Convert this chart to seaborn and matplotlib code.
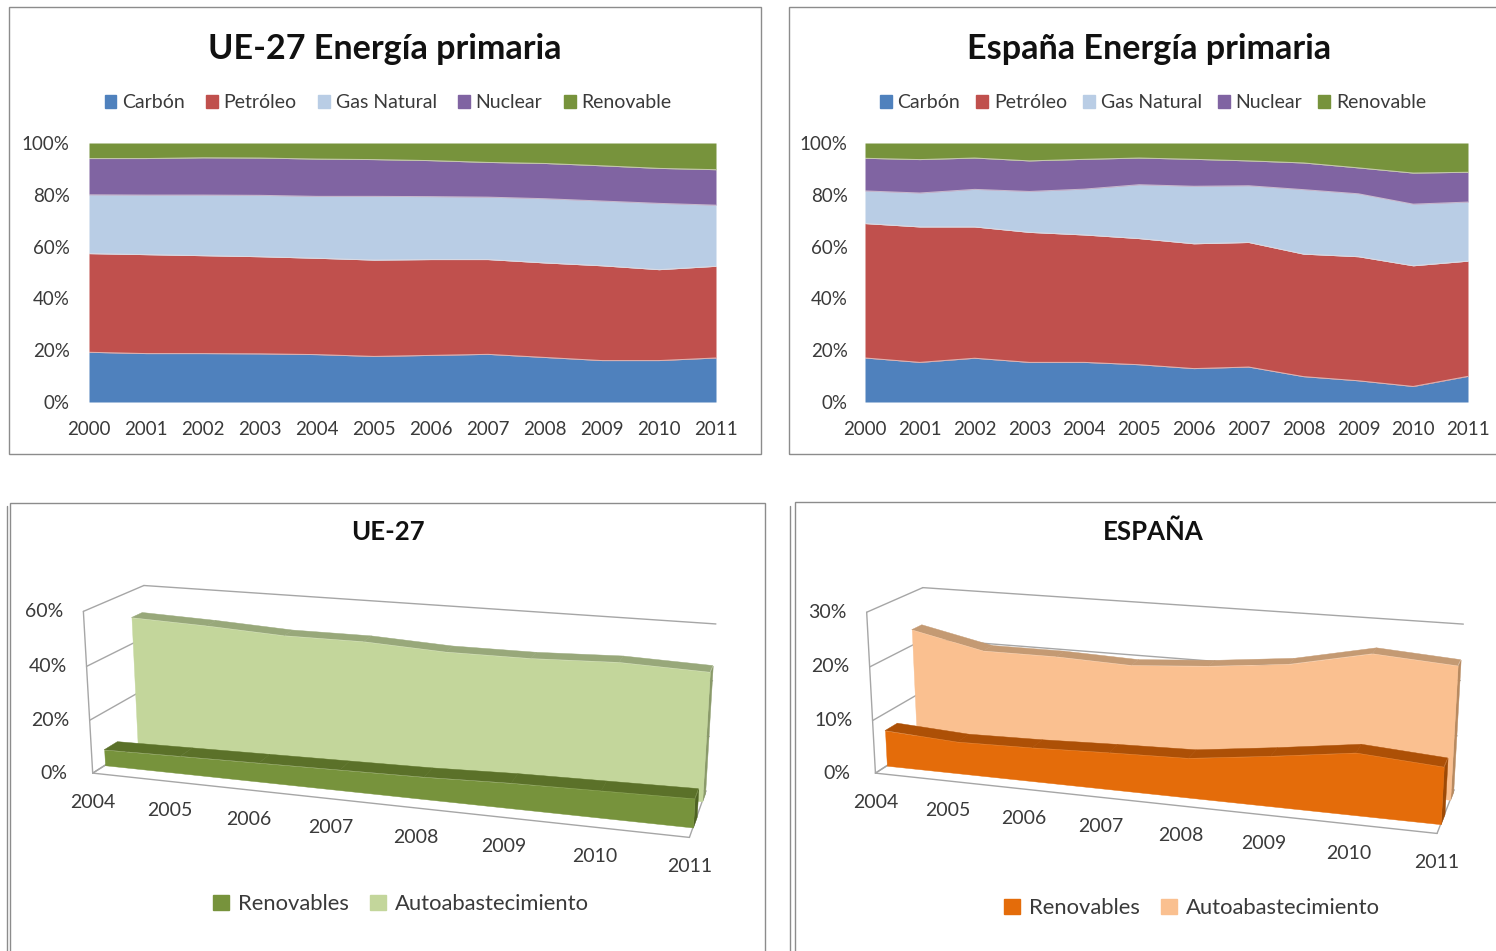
"""
Primary energy mix and self-sufficiency, EU-27 vs Spain
"""

import numpy as np
import matplotlib.pyplot as plt
import seaborn as sns
from matplotlib.lines import Line2D
from matplotlib.patches import Patch, Rectangle
from mpl_toolkits.mplot3d import proj3d

W, H = 1496, 951

years_mix = list(range(2000, 2012))
fuels = ['Carbón', 'Petróleo', 'Gas Natural', 'Nuclear', 'Renovable']
fuel_colors = ['#4F81BD', '#C0504D', '#B9CDE5', '#8064A2', '#77933C']

ue_carbon = [19.2, 18.7, 18.7, 18.6, 18.3, 17.6, 18.0, 18.4, 17.2, 16.0, 16.0, 17.0]
ue_petroleo = [38.1, 38.2, 37.8, 37.5, 37.2, 37.2, 37.0, 36.6, 36.5, 36.6, 35.1, 35.4]
ue_gas = [22.7, 23.0, 23.4, 23.7, 23.9, 24.6, 24.3, 24.1, 24.8, 25.0, 25.6, 23.6]
ue_nuclear = [14.0, 14.1, 14.4, 14.4, 14.4, 14.2, 13.9, 13.4, 13.6, 13.6, 13.5, 13.7]
ue_renovable = [6.0, 6.0, 5.7, 5.8, 6.2, 6.4, 6.8, 7.5, 7.9, 8.8, 9.8, 10.3]

es_carbon = [17.0, 15.3, 16.9, 15.3, 15.3, 14.4, 12.9, 13.5, 9.8, 8.2, 6.0, 9.9]
es_petroleo = [51.9, 52.3, 50.7, 50.2, 49.2, 48.7, 48.2, 48.1, 47.3, 47.9, 46.6, 44.5]
es_gas = [12.6, 13.1, 14.5, 15.8, 17.7, 20.8, 22.2, 21.9, 24.9, 24.3, 23.8, 22.8]
es_nuclear = [12.6, 12.9, 12.1, 11.8, 11.5, 10.3, 10.4, 9.6, 10.3, 10.0, 12.0, 11.5]
es_renovable = [5.9, 6.4, 5.8, 6.9, 6.3, 5.8, 6.3, 6.9, 7.7, 9.6, 11.6, 11.3]

years_auto = list(range(2004, 2012))
ue_renovables = [6.0, 6.5, 7.0, 7.5, 8.0, 9.0, 9.5, 10.0]
ue_auto = [50.0, 49.0, 47.5, 47.5, 46.0, 46.0, 47.0, 46.0]
es_renovables = [6.8, 6.0, 6.3, 6.8, 7.2, 9.0, 11.0, 10.0]
es_auto = [23.0, 20.0, 20.0, 19.5, 20.5, 22.0, 25.0, 24.0]

sns.set_theme(style='white')
plt.rcParams['font.family'] = ['Lato', 'DejaVu Sans']

fig = plt.figure(figsize=(W / 100, H / 100), dpi=100, facecolor='white')


def px_rect(x0, y0, x1, y1):
    return [x0 / W, 1 - y1 / H, (x1 - x0) / W, (y1 - y0) / H]


def frame(x0, y0, x1, y1):
    fig.add_artist(Rectangle((x0 / W, 1 - y1 / H), (x1 - x0) / W, (y1 - y0) / H,
                             transform=fig.transFigure, fill=False,
                             edgecolor='#8c8c8c', linewidth=1.0))


def mix_chart(rect, series, title, title_x, legend_x, colspace, ypad):
    ax = fig.add_axes(px_rect(*rect))
    ax.stackplot(years_mix, series, colors=fuel_colors, linewidth=0)

    # thin pale separators between the bands
    tops = np.cumsum(series, axis=0)
    for top in tops[:-1]:
        sns.lineplot(x=years_mix, y=top, color='#e8dfe0', linewidth=0.7,
                     alpha=0.7, legend=False, ax=ax)

    ax.set_xlim(2000, 2011)
    ax.set_ylim(0, 100)
    ax.set_xticks(years_mix)
    ax.set_yticks(range(0, 101, 20))
    ax.set_yticklabels([f'{v}%' for v in range(0, 101, 20)])
    ax.tick_params(axis='both', length=0, labelsize=13.5, labelcolor='#3a3a3a')
    ax.tick_params(axis='x', pad=14)
    ax.tick_params(axis='y', pad=ypad)
    sns.despine(ax=ax, left=True, bottom=True)

    fig.text(title_x / W, 1 - 49 / H, title, ha='center', va='center',
             fontsize=24.6, fontweight='bold', color='#111111')
    handles = [Patch(color=c, label=f) for c, f in zip(fuel_colors, fuels)]
    fig.legend(handles=handles, loc='center', bbox_to_anchor=(legend_x / W, 1 - 103 / H),
               ncol=5, frameon=False, fontsize=14, handlelength=0.6, handleheight=0.6,
               handletextpad=0.3, columnspacing=colspace, labelcolor='#3a3a3a')


def slab(ax, vals, y0, y1, front, top, side, z):
    n = len(years_auto)
    zeros = [0] * n
    ax.fill_between(years_auto[-1:] * 2, [y0, y1], [0, 0], years_auto[-1:] * 2, [y0, y1],
                    [vals[-1]] * 2, color=side, shade=False, zorder=z, linewidth=0.3)
    ax.fill_between(years_auto, [y0] * n, vals, years_auto, [y1] * n, vals,
                    color=top, shade=False, zorder=z + 1, linewidth=0.3)
    ax.fill_between(years_auto, [y0] * n, zeros, years_auto, [y0] * n, vals,
                    color=front, shade=False, zorder=z + 2, linewidth=0.3)


def label_at(ax, x, y, z, text, dx, dy):
    # project the 3D anchor, then offset the flat label from it
    px, py, _ = proj3d.proj_transform(x, y, z, ax.get_proj())
    ax.annotate(text, (px, py), xytext=(dx, dy), textcoords='offset points', xycoords='data',
                ha='center', va='center', fontsize=14, color='#3a3a3a', annotation_clip=False)


def auto_chart(rect, renov, auto, zmax, zticks, title, title_x, colors, legend_x, legend_y,
               zoom, z_aspect):
    ax = fig.add_axes(px_rect(*rect), projection='3d', computed_zorder=False)
    ax.set_axis_off()
    ax.patch.set_alpha(0)
    ax.set_proj_type('persp', focal_length=0.38)
    ax.view_init(elev=16, azim=-72.5)
    ax.set_box_aspect((1, 0.22, z_aspect), zoom=zoom)
    ax.set_xlim(2004, 2011, view_margin=0)
    ax.set_ylim(0, 1, view_margin=0)
    ax.set_zlim(0, zmax, view_margin=0)

    x0, x1 = years_auto[0], years_auto[-1]
    line = dict(color='#a6a6a6', linewidth=1.0, zorder=1)
    # floor and walls
    ax.plot([x0, x1], [0, 0], [0, 0], **line)
    ax.plot([x1, x1], [0, 1], [0, 0], **line)
    ax.plot([x0, x0], [0, 1], [0, 0], **line)
    ax.plot([x0, x0], [0, 0], [0, zmax], **line)
    for t in zticks:
        ax.plot([x0, x0], [0, 1], [t, t], **line)
        ax.plot([x0, x1], [1, 1], [t, t], **line)
        label_at(ax, x0, 0, t, f'{t}%', -28, 0)

    slab(ax, auto, 0.76, 0.95, colors[1], colors[3], colors[5], 2)
    slab(ax, renov, 0.2, 0.42, colors[0], colors[2], colors[4], 6)

    for yr in years_auto:
        label_at(ax, yr, 0, 0, str(yr), 0, -21)

    fig.text(title_x / W, 1 - 532 / H, title, ha='center', va='center',
             fontsize=18.5, fontweight='bold', color='#111111')
    handles = [Patch(color=colors[0], label='Renovables'),
               Patch(color=colors[1], label='Autoabastecimiento')]
    fig.legend(handles=handles, loc='center', bbox_to_anchor=(legend_x / W, 1 - legend_y / H),
               ncol=2, frameon=False, fontsize=15.8, handlelength=0.7, handleheight=0.7,
               handletextpad=0.4, columnspacing=1.0, labelcolor='#3a3a3a')


frame(9, 7, 761, 454)
frame(789, 7, 1500, 454)
frame(10, 503, 765, 960)
frame(795, 502, 1500, 960)
fig.add_artist(Line2D([7 / W, 7 / W], [1 - 506 / H, 0], color='#8c8c8c', linewidth=1.0))
fig.add_artist(Line2D([790 / W, 790 / W], [1 - 506 / H, 0], color='#8c8c8c', linewidth=1.0))

mix_chart((89, 143, 716, 402), [ue_carbon, ue_petroleo, ue_gas, ue_nuclear, ue_renovable],
          'UE-27 Energía primaria', 385, 388, 1.1, 14)
mix_chart((865, 143, 1468, 402), [es_carbon, es_petroleo, es_gas, es_nuclear, es_renovable],
          'España Energía primaria', 1149, 1153, 0.83, 12.5)

green = ['#77933C', '#C3D69B', '#5B7129', '#98A87A', '#4F6323', '#8A9A6A']
orange = ['#E46C0A', '#FAC090', '#AD5006', '#C49A73', '#9E4A06', '#B88A60']
auto_chart((14, 341, 754, 1081), ue_renovables, ue_auto, 60, [0, 20, 40, 60], 'UE-27', 388,
           green, 401, 904, 0.85, 0.28)
auto_chart((780, 341, 1520, 1081), es_renovables, es_auto, 30, [0, 10, 20, 30], 'ESPAÑA', 1153,
           orange, 1192, 908, 0.805, 0.295)

plt.savefig('out.png', dpi=100)
